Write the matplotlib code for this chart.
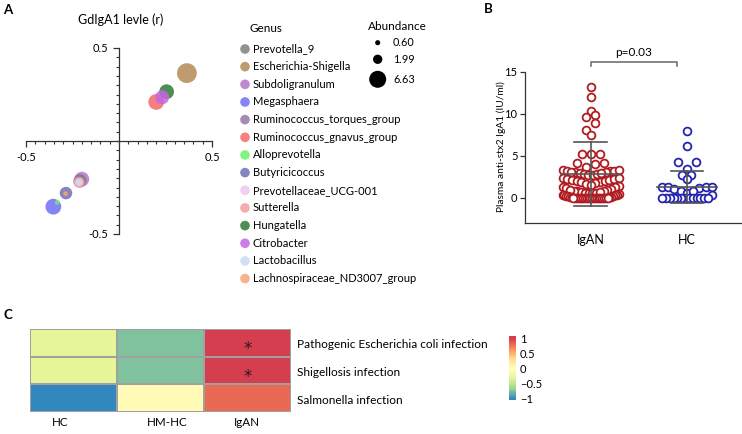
import numpy as np
import matplotlib.pyplot as plt
from matplotlib.colors import LinearSegmentedColormap, Normalize
from matplotlib.ticker import MultipleLocator

plt.rcParams['font.family'] = ['Lato', 'DejaVu Sans']
plt.rcParams['axes.unicode_minus'] = False

W, H = 742, 434

# ---- panel A: genus correlation with GdIgA1 ----
genus = ['Prevotella_9', 'Escherichia-Shigella', 'Subdoligranulum', 'Megasphaera',
         'Ruminococcus_torques_group', 'Ruminococcus_gnavus_group', 'Alloprevotella',
         'Butyricicoccus', 'Prevotellaceae_UCG-001', 'Sutterella', 'Hungatella',
         'Citrobacter', 'Lactobacillus', 'Lachnospiraceae_ND3007_group']
genus_colors = ['#7f7f7f', '#b38b57', '#b377cc', '#6e6ef5', '#9678a6', '#f56a6a',
                '#6ff26f', '#7171b3', '#ecc8ef', '#f2a0a0', '#2f7a34', '#c467e3',
                '#c8dcf2', '#f5a679']
corr_x = [-0.21, 0.365, -0.20, -0.353, -0.21, 0.20, -0.332, -0.285, -0.215, -0.215,
          0.256, 0.232, -0.218, -0.287]
corr_y = [-0.21, 0.365, -0.205, -0.353, -0.215, 0.21, -0.33, -0.28, -0.222, -0.222,
          0.265, 0.235, -0.222, -0.283]
abundance = [3.0, 9.0, 5.0, 5.7, 4.0, 5.7, 0.5, 3.6, 1.5, 2.8, 5.0, 4.5, 0.6, 0.5]
size_keys = [0.60, 1.99, 6.63]

# ---- panel B: anti-stx2 IgA1 ----
igan = [13.2, 12.0, 10.3, 9.8, 9.6, 8.9, 8.1, 7.5,
        5.2, 5.2, 5.2, 4.1, 4.0, 4.1, 3.6,
        3.3, 3.2, 3.2, 3.1, 3.0, 2.9, 2.8, 2.7, 2.7, 2.8, 2.9, 3.1, 3.2, 3.3,
        2.3, 2.2, 2.1, 2.0, 1.9, 1.8, 2.0, 2.1, 2.2, 2.3, 1.7, 1.6,
        1.5, 1.4, 1.3, 1.2, 1.1, 1.0, 0.9, 0.8, 0.8, 0.7, 0.6, 0.5, 0.5, 0.6,
        0.7, 0.8, 0.9,
        0.4, 0.35, 0.3, 0.3, 0.25, 0.2, 0.2, 0.15, 0.1, 0.1, 0.05, 0.05,
        0.0, 0.0, 0.0, 0.0, 0.0, 0.0, 0.0, 0.0, 0.0, 0.0, 0.0, 0.0, 0.0, 0.0,
        0.0, 0.0, 0.0, 0.0, 0.0, 0.0]
hc = [7.9, 6.2, 4.2, 4.2, 3.4, 2.7, 2.7, 2.2, 1.3, 1.2, 1.1, 1.2, 1.0, 1.3,
      0.8, 0.5, 0.8, 0.3, 0.0, 0.0, 0.0, 0.0, 0.0, 0.0, 0.0, 0.0, 0.0, 0.0,
      0.0, 0.0, 0.0]
groups = ['IgAN', 'HC']
group_mean = [2.8, 1.3]
group_sd = [3.8, 1.9]
group_colors = ['#b01c22', '#2424b0']
p_label = 'p=0.03'
p_bracket = [0.0, 0.9, 16.2]

# ---- panel C: KEGG pathway heatmap ----
pathways = ['Pathogenic Escherichia coli infection', 'Shigellosis infection',
            'Salmonella infection']
heat_groups = ['HC', 'HM-HC', 'IgAN']
heat_vals = np.array([[-0.33, -0.75, 1.0],
                      [-0.33, -0.75, 1.0],
                      [-1.0, 0.06, 0.82]])
heat_sig = [['', '', '*'], ['', '', '*'], ['', '', '']]
cbar_ticks = [1, 0.5, 0, -0.5, -1]
cbar_labels = ['1', '0.5', '0', '\u22120.5', '\u22121']


def px_axes(fig, left, top, right, bottom):
    return fig.add_axes([left / W, 1 - bottom / H, (right - left) / W, (bottom - top) / H])


def swarm(vals, binw, maxw, step):
    vals = np.asarray(vals, float)
    offs = np.zeros(len(vals))
    bins = np.round(vals / binw).astype(int)
    for b in np.unique(bins):
        idx = np.where(bins == b)[0]
        idx = idx[np.argsort(vals[idx], kind='stable')]
        n = len(idx)
        sp = min(step, maxw / max(n - 1, 1))
        slots = (np.arange(n) - (n - 1) / 2) * sp
        order = np.argsort(np.abs(slots), kind='stable')
        offs[idx] = slots[order]
    return offs


fig = plt.figure(figsize=(W / 100, H / 100), dpi=100)

# ================= A =================
axA = px_axes(fig, 26, 48, 212, 234)
order = np.argsort(abundance)[::-1]
k = 22.6
for i in order:
    axA.scatter(corr_x[i], corr_y[i], s=k * abundance[i], color=genus_colors[i],
                alpha=0.85, edgecolors='none', zorder=3, clip_on=False)
axA.set_xlim(-0.5, 0.5)
axA.set_ylim(-0.5, 0.5)
for s in ['top', 'right']:
    axA.spines[s].set_visible(False)
axA.spines['left'].set_position('zero')
axA.spines['bottom'].set_position('zero')
for s in ['left', 'bottom']:
    axA.spines[s].set_color('#333333')
    axA.spines[s].set_linewidth(0.9)
axA.set_xticks([-0.5, 0.5])
axA.set_xticklabels(['-0.5', '0.5'])
axA.set_yticks([-0.5, 0.5])
axA.set_yticklabels(['-0.5', '0.5'])
axA.xaxis.set_minor_locator(MultipleLocator(0.05))
axA.yaxis.set_minor_locator(MultipleLocator(0.05))
axA.tick_params(which='major', length=4, width=0.9, color='#333333', labelsize=8, pad=4)
axA.tick_params(which='minor', length=2.5, width=0.8, color='#333333')
axA.patch.set_alpha(0)

# ================= B =================
axB = px_axes(fig, 525, 71.7, 741, 222.7)
axB.set_xlim(-0.679, 1.56)
axB.set_ylim(-3, 15)
pxx = (741 - 525) / (1.56 + 0.679)
for gi, vals in enumerate([igan, hc]):
    offs = swarm(vals, 0.95, 56 if gi == 0 else 50, 9.0) / pxx
    axB.plot(gi + offs, vals, 'o', ms=5.6, mfc='white', mec=group_colors[gi],
             mew=1.3, ls='none', zorder=3, clip_on=False)
    m, sd = group_mean[gi], group_sd[gi]
    axB.plot([gi - 0.31, gi + 0.31], [m, m], color='#555555', lw=1.2, zorder=4)
    axB.plot([gi, gi], [m - sd, m + sd], color='#555555', lw=1.2, zorder=4)
    for yy in [m - sd, m + sd]:
        axB.plot([gi - 0.17, gi + 0.17], [yy, yy], color='#555555', lw=1.2, zorder=4)
x0, x1, yb = p_bracket
axB.plot([x0, x0, x1, x1], [yb - 0.5, yb, yb, yb - 0.5], color='#666666', lw=1.1,
         clip_on=False)
axB.text((x0 + x1) / 2, yb + 0.45, p_label, ha='center', va='bottom', fontsize=8.5)
for s in ['top', 'right']:
    axB.spines[s].set_visible(False)
for s in ['left', 'bottom']:
    axB.spines[s].set_color('#333333')
    axB.spines[s].set_linewidth(0.9)
axB.set_yticks([0, 5, 10, 15])
axB.set_xticks([0, 1])
axB.set_xticklabels(groups, fontsize=9)
axB.tick_params(axis='y', length=3.5, width=0.9, color='#333333', labelsize=8, pad=2)
axB.tick_params(axis='x', length=0, pad=8)

# ================= C =================
spectral7 = ['#3288bd', '#99d594', '#e6f598', '#ffffbf', '#fee08b', '#fc8d59', '#d53e4f']
cmap = LinearSegmentedColormap.from_list('spec7', spectral7)
norm = Normalize(-1, 1)

axC = px_axes(fig, 29.6, 328.7, 291, 412.3)
axC.pcolormesh(np.arange(4), np.arange(4), heat_vals, cmap=cmap, norm=norm,
               edgecolors='#a0a0a0', linewidth=1.2)
axC.set_xlim(0, 3)
axC.set_ylim(3, 0)
axC.axis('off')
for r in range(3):
    axC.text(3.065, r + 0.58, pathways[r], ha='left', va='center', fontsize=8.6)
    for c in range(3):
        if heat_sig[r][c]:
            axC.text(c + 0.5, r + 0.9, heat_sig[r][c], ha='center', va='baseline',
                     fontsize=12, color='#2e1a1a', family='DejaVu Sans')
col_shift = [-0.15, 0.08, 0.0]
for c in range(3):
    axC.text(c + 0.5 + col_shift[c], 3.36, heat_groups[c], ha='center', va='center',
             fontsize=8.4)

axCB = px_axes(fig, 509, 335.7, 515.5, 400)
axCB.imshow(np.linspace(1.11, -1.034, 100)[:, None], extent=[0, 1, -1.034, 1.11],
            aspect='auto', cmap=cmap, norm=norm)
axCB.set_xlim(0, 1)
axCB.set_ylim(-1.034, 1.11)
axCB.set_xticks([])
axCB.yaxis.tick_right()
axCB.set_yticks(cbar_ticks)
axCB.set_yticklabels(cbar_labels)
axCB.tick_params(axis='y', length=0, pad=3, labelsize=8)
for s in axCB.spines.values():
    s.set_visible(False)

# ================= overlay: letters, title, legends =================
ov = fig.add_axes([0, 0, 1, 1])
ov.set_xlim(0, W)
ov.set_ylim(H, 0)
ov.axis('off')
ov.patch.set_alpha(0)

ov.text(3, 10, 'A', fontsize=9.5, fontweight='bold', va='center')
ov.text(484, 9, 'B', fontsize=9.5, fontweight='bold', va='center')
ov.text(3, 315, 'C', fontsize=9.5, fontweight='bold', va='center')
ov.text(121, 20, 'GdIgA1 levle (r)', fontsize=9, ha='center', va='center')
ov.text(501, 147, 'Plasma anti-stx2 IgA1 (IU/ml)', fontsize=7.3, rotation=90,
        ha='center', va='center')

ov.text(250, 28, 'Genus', fontsize=8.5, va='center')
for i, g in enumerate(genus):
    yy = 49 + i * 17.66
    ov.scatter(245, yy, s=48, color=genus_colors[i], alpha=0.85, edgecolors='none')
    ov.text(252.5, yy, g, fontsize=8, va='center')

ov.text(368, 27, 'Abundance', fontsize=8.5, va='center')
for j, a in enumerate(size_keys):
    yy = [42.7, 59.3, 79.3][j]
    ov.scatter(377.7, yy, s=k * a, color='black', edgecolors='none')
    ov.text(393, yy, '%.2f' % a, fontsize=7.8, va='center')

fig.savefig('out.png', dpi=100)
